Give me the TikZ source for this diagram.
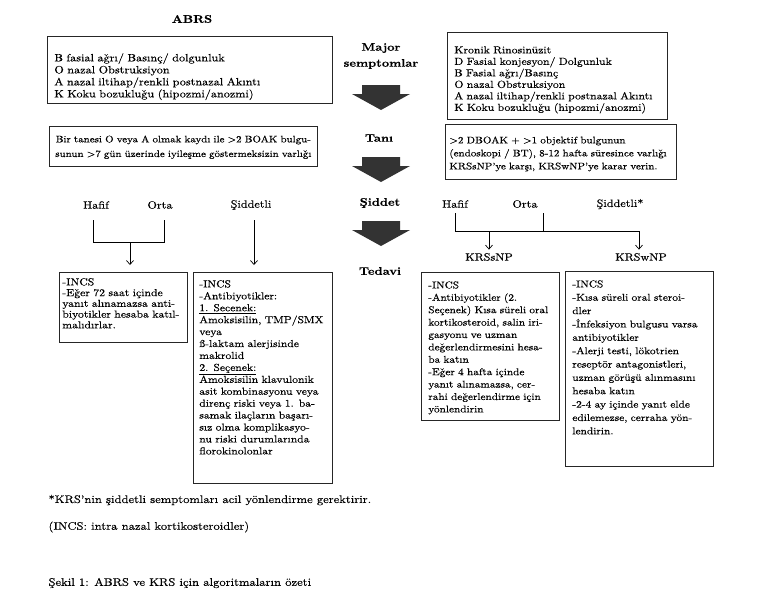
\documentclass[tikz,border=0pt]{standalone}
\usepackage{fontspec}
\setmainfont{lmroman10-regular.otf}[BoldFont=lmroman10-bold.otf, FakeStretch=1.15, FakeBold=0.3]
\usepackage{tikz}
\usetikzlibrary{arrows.meta}

\begin{document}
\begin{tikzpicture}[x=1pt, y=-1pt,
		tbox/.style={draw=black!85, line width=0.7pt, anchor=north west, inner xsep=7pt, inner ysep=0pt, align=left},
		arr/.style={line width=0.7pt, -{Straight Barb[length=4pt,width=7pt]}},
		stage/.style={font=\fontsize{11}{16}\selectfont\bfseries, align=center},
		grade/.style={font=\fontsize{10.6}{13}\selectfont}]
				\useasboundingbox (0,0) rectangle (757,608);
				% stage titles in the middle column
				\node[stage] (abrs) at (192,19) {ABRS};
				\node[stage] (major) at (381,56) {Major\\semptomlar};
				\node[stage] (tani) at (379,138) {Tanı};
				\node[stage] (siddet) at (380,203) {Şiddet};
				\node[stage] (tedavi) at (380,271) {Tedavi};
				\foreach \y in {85,157,221}
					\fill[black!80] (362,\y) -- (400,\y) -- (400,\y+9) -- (410,\y+9) -- (381,\y+25) -- (352,\y+9) -- (362,\y+9) -- cycle;
				% major symptoms
				\node[tbox, text width=271pt, text height=25pt, text depth=42pt, font=\fontsize{10.6}{12}\selectfont] (abrssym) at (47,36)
					{B fasial ağrı/ Basınç/ dolgunluk\\O nazal Obstruksiyon\\A nazal iltihap/renkli postnazal Akıntı\\K Koku bozukluğu (hipozmi/anozmi)};
				\node[tbox, text width=206pt, text height=21pt, text depth=66pt, font=\fontsize{10.2}{11.5}\selectfont] (krssym) at (447,32)
					{Kronik Rinosinüzit\\D Fasial konjesyon/ Dolgunluk\\B Fasial ağrı/Basınç\\O nazal Obstruksiyon\\A nazal iltihap/renkli postnazal Akıntı\\K Koku bozukluğu (hipozmi/anozmi)};
				% diagnosis
				\node[tbox, align=center, inner xsep=2pt, text width=264pt, text height=16pt, text depth=24pt, font=\fontsize{9.5}{14.6}\selectfont] (abrsdx) at (49,126)
					{Bir tanesi O veya A olmak kaydı ile >2 BOAK bulgu-\\sunun >7 gün üzerinde iyileşme göstermeksizin varlığı};
				\node[tbox, inner xsep=4pt, text width=223pt, text height=19pt, text depth=36pt, font=\fontsize{9.6}{13}\selectfont] (krsdx) at (445,124)
					{>2 DBOAK + >1 objektif bulgunun\\(endoskopi / BT), 8-12 hafta süresince varlığı\\KRSsNP’ye karşı, KRSwNP’ye karar verin.};
				% severity
				\node[grade] (hafl) at (96,205) {Hafif};
				\node[grade] (ortal) at (160,205) {Orta};
				\node[grade] (sidl) at (251,205) {Şiddetli};
				\node[grade] (hafr) at (455,204) {Hafif};
				\node[grade] (ortar) at (525,204) {Orta};
				\node[grade] (sidr) at (620,204) {Şiddetli*};
				\node[grade] (ksn) at (489,257) {KRSsNP};
				\node[grade] (kwn) at (641,257) {KRSwNP};
				% treatment
				\node[tbox, inner xsep=3pt, text width=122pt, text height=13pt, text depth=57pt, font=\fontsize{10.2}{10.75}\selectfont] (incsl) at (59,272)
					{-INCS\\-Eğer 72 saat içinde\\yanıt alınamazsa anti-\\biyotikler hesaba katıl-\\malıdırlar.};
				\node[tbox, inner xsep=6pt, text width=127pt, text height=15pt, text depth=196pt, font=\fontsize{10.1}{11.93}\selectfont] (sidbox) at (193,272)
					{-INCS\\-Antibiyotikler:\\\underline{1. Secenek:}\\Amoksisilin, TMP/SMX\\veya\\ß-laktam alerjisinde\\makrolid\\\underline{2. Seçenek:}\\Amoksisilin klavulonik\\asit kombinasyonu veya\\direnç riski veya 1. ba-\\samak ilaçların başarı-\\sız olma komplikasyo-\\nu riski durumlarında\\florokinolonlar};
				\node[tbox, text width=124pt, text height=16pt, text depth=132pt, font=\fontsize{9.8}{12.4}\selectfont] (ksnbox) at (421,272)
					{-INCS\\-Antibiyotikler (2.\\Seçenek) Kısa süreli oral\\kortikosteroid, salin iri-\\gasyonu ve uzman\\değerlendirmesini hesa-\\ba katın\\-Eğer 4 hafta içinde\\yanıt alınamazsa, cer-\\rahi değerlendirme için\\yönlendirin};
				\node[tbox, text width=134pt, text height=16pt, text depth=179pt, font=\fontsize{9.9}{13.36}\selectfont] (kwnbox) at (565,271)
					{-INCS\\-Kısa süreli oral steroi-\\dler\\-İnfeksiyon bulgusu varsa\\antibiyotikler\\-Alerji testi, lökotrien\\reseptör antagonistleri,\\uzman görüşü alınmasını\\hesaba katın\\-2-4 ay içinde yanıt elde\\edilemezse, cerraha yön-\\lendirin.};
				% left brackets
				\coordinate (lh) at (93,220);
				\coordinate (lo) at (164,220);
				\coordinate (ljoin) at (130,242);
				\coordinate (ls) at (254,220);
				\draw[line width=0.7pt] (lh) -- (lh |- ljoin) -- (lo |- ljoin) -- (lo);
				\draw[arr, shorten >=7pt] (ljoin) -- (ljoin |- incsl.north);
				\draw[arr, shorten >=7pt] (ls) -- (ls |- sidbox.north);
				% right brackets
				\coordinate (rh) at (455,213);
				\coordinate (ro) at (543,213);
				\coordinate (rbar) at (639,231);
				\draw[line width=0.7pt] (rh) |- (rbar);
				\draw[line width=0.7pt] (ro) -- (ro |- rbar);
				\draw[arr] (ksn |- rbar) -- (ksn.north);
				\draw[arr] (rbar) -- (rbar |- kwn.north);
				% notes
				\node[anchor=west, font=\fontsize{10.95}{13}\selectfont] (star) at (45,500) {*KRS’nin şiddetli semptomları acil yönlendirme gerektirir.};
				\node[anchor=west, font=\fontsize{10.95}{13}\selectfont] (abbr) at (45,527) {(INCS: intra nazal kortikosteroidler)};
				\node[anchor=west, font=\fontsize{10.95}{13}\selectfont] (caption) at (45,583) {Şekil 1: ABRS ve KRS için algoritmaların özeti};
		\end{tikzpicture}
\end{document}
